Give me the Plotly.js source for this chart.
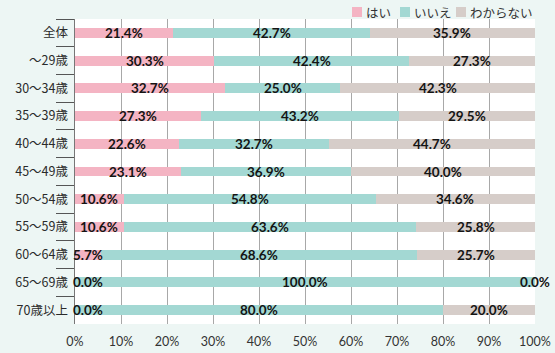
<!DOCTYPE html>
<html>
<head>
<meta charset="utf-8">
<script src="https://cdn.plot.ly/plotly-3.0.1.min.js"></script>
<style>html,body{margin:0;padding:0;background:#EDF6F4;}</style>
</head>
<body>
<div id="chart" style="width:555px;height:353px;"></div>
<script>
const categories = ["全体", "～29歳", "30～34歳", "35～39歳", "40～44歳", "45～49歳", "50～54歳", "55～59歳", "60～64歳", "65～69歳", "70歳以上"];
const seriesNames = ["はい", "いいえ", "わからない"];
const yesValues = [21.4, 30.3, 32.7, 27.3, 22.6, 23.1, 10.6, 10.6, 5.7, 0.0, 0.0];
const noValues = [42.7, 42.4, 25.0, 43.2, 32.7, 36.9, 54.8, 63.6, 68.6, 100.0, 80.0];
const unknownValues = [35.9, 27.3, 42.3, 29.5, 44.7, 40.0, 34.6, 25.8, 25.7, 0.0, 20.0];
const xTickValues = [0, 10, 20, 30, 40, 50, 60, 70, 80, 90, 100];
const xTickLabels = ["0%", "10%", "20%", "30%", "40%", "50%", "60%", "70%", "80%", "90%", "100%"];

const colors = ["#F4B4C3", "#A3D8D3", "#D6CDC9"];
const allSeries = [yesValues, noValues, unknownValues];

const traces = allSeries.map((vals, i) => ({
  type: "bar",
  orientation: "h",
  name: seriesNames[i],
  x: vals,
  y: categories,
  marker: {color: colors[i], line: {width: 0}},
  width: 0.36,
  hoverinfo: "skip",
  showlegend: false
}));

const labelFont = {family: "Lato, 'Noto Sans CJK JP', sans-serif", size: 13.5, color: "#141414", weight: "bold"};
const annotations = [];
categories.forEach((cat, ci) => {
  let start = 0;
  allSeries.forEach((vals) => {
    const v = vals[ci];
    const center = start + v / 2;
    const atStart = (v === 0 && start === 0);
    annotations.push({
      x: atStart ? 0 : center,
      y: cat,
      xref: "x", yref: "y",
      text: v.toFixed(1) + "%",
      showarrow: false,
      xanchor: atStart ? "left" : "center",
      xshift: atStart ? -4 : 0,
      font: labelFont
    });
    start += v;
  });
});

// custom compact legend (top right, above plot area)
const plotL = 75, plotW = 460, plotB = 324, plotH = 305;
const legendSquareLeft = [352, 400, 456];
const shapes = [];
seriesNames.forEach((name, i) => {
  const x0 = (legendSquareLeft[i] - plotL) / plotW;
  const x1 = (legendSquareLeft[i] + 10 - plotL) / plotW;
  shapes.push({
    type: "rect", xref: "paper", yref: "paper",
    x0: x0, x1: x1,
    y0: (plotB - 17) / plotH, y1: (plotB - 7) / plotH,
    fillcolor: colors[i], line: {width: 0}
  });
  annotations.push({
    xref: "paper", yref: "paper",
    x: (legendSquareLeft[i] + 12 - plotL) / plotW,
    y: (plotB - 12) / plotH,
    xanchor: "left", yanchor: "middle",
    text: name, showarrow: false,
    font: {family: "'Noto Sans CJK JP', sans-serif", size: 12.5, color: "#333"}
  });
});

const layout = {
  width: 555,
  height: 353,
  paper_bgcolor: "#EDF6F4",
  plot_bgcolor: "#FFFFFF",
  margin: {l: 75, r: 20, t: 19, b: 29},
  barmode: "stack",
  font: {family: "'Noto Sans CJK JP', sans-serif", size: 12, color: "#333"},
  showlegend: false,
  xaxis: {
    range: [0, 100],
    tickvals: xTickValues,
    ticktext: xTickLabels,
    showgrid: true,
    gridcolor: "#A8A8A8",
    gridwidth: 1,
    zeroline: false,
    showline: false,
    ticks: "",
    ticklabelstandoff: 8,
    tickfont: {family: "Lato, 'Noto Sans CJK JP', sans-serif", size: 12.5, color: "#333"},
    fixedrange: true
  },
  yaxis: {
    type: "category",
    autorange: "reversed",
    showline: true,
    linecolor: "#777",
    linewidth: 1.5,
    ticks: "outside",
    tickson: "boundaries",
    ticklen: 18,
    tickcolor: "#555",
    tickwidth: 1,
    ticklabelstandoff: 3,
    showgrid: false,
    tickfont: {size: 12.5, color: "#2a2a2a"},
    fixedrange: true
  },
  shapes: shapes,
  annotations: annotations
};

Plotly.newPlot("chart", traces, layout, {displayModeBar: false, staticPlot: true});
</script>
</body>
</html>
